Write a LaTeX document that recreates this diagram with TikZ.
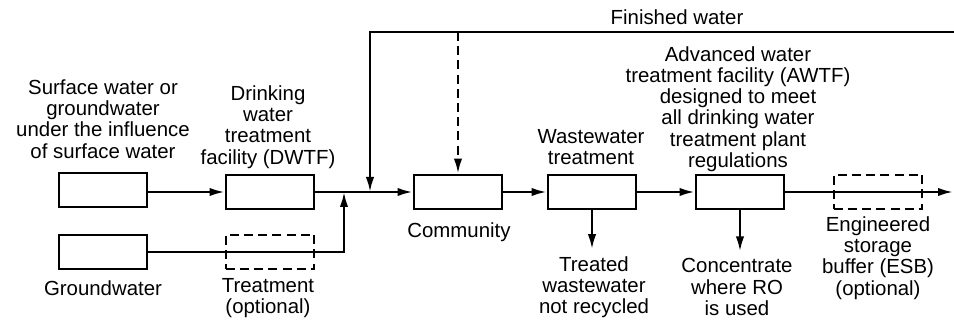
\documentclass[tikz,border=0pt]{standalone}
\usepackage{fontspec}
\setmainfont{Liberation Sans}
\usetikzlibrary{arrows.meta}
\begin{document}
\begin{tikzpicture}[x=0.5pt, y=-0.5pt, line width=1.15pt, >={Latex[length=7.5pt,width=4.2pt]},
		font=\fontsize{10.2pt}{10.6pt}\selectfont]
	\tikzset{unit/.style={draw, minimum width=44.3pt, minimum height=17.3pt, inner sep=0pt},
		optdash/.style={dash pattern=on 4.5pt off 2.6pt},
		optunit/.style={unit, optdash},
		txt/.style={align=center, inner sep=0pt}}
	\useasboundingbox (0,0) rectangle (954,320);
	% process boxes
	\node[unit] (surf) at (103,190) {};
	\node[unit] (gw) at (103,252) {};
	\node[unit] (dwtf) at (270,192) {};
	\node[optunit] (trt) at (270,252) {};
	\node[unit] (com) at (458,192) {};
	\node[unit] (wwt) at (592,192) {};
	\node[unit] (awtf) at (740,192) {};
	\node[optunit] (esb) at (878,192) {};
	% labels
	\node[txt] (surflbl) at (103,119) {Surface water or\\groundwater\\under the influence\\of surface water};
	\node[txt] (dwtflbl) at (268,127) {Drinking\\water\\treatment\\facility (DWTF)};
	\node[txt] (gwlbl) at (103,288) {Groundwater};
	\node[txt] (trtlbl) at (268,298) {Treatment\\(optional)};
	\node[txt] (finlbl) at (677,17) {Finished water};
	\node[txt] (comlbl) at (459,232) {Community};
	\node[txt] (wwtlbl) at (591,147) {Wastewater\\treatment};
	\node[txt] (twlbl) at (594,287) {Treated\\wastewater\\not recycled};
	\node[txt] (awtflbl) at (738,109) {Advanced water\\treatment facility (AWTF)\\designed to meet\\all drinking water\\treatment plant\\regulations};
	\node[txt] (conclbl) at (737,287) {Concentrate\\where RO\\is used};
	\node[txt] (esblbl) at (878,258) {Engineered\\storage\\buffer (ESB)\\(optional)};
	% junctions
	\coordinate (gwj) at (344,192);
	\coordinate (finj) at (370,192);
	\coordinate (fintop) at (370,32);
	\coordinate (finin) at (954,32);
	\coordinate (comtap) at (com.north |- fintop);
	\coordinate (out) at (953,192);
	% flows
	\draw[->] (surf.east |- dwtf) -- (dwtf);
	\draw[->] (dwtf) -- (com);
	\draw[->] (gw.east) -| (gwj);
	\draw[->] (finin) -- (fintop) -- (finj);
	\draw[->, optdash] (comtap) -- (com);
	\draw[->] (com) -- (wwt);
	\draw[->] (wwt) -- (awtf);
	\draw[->] (awtf) -- (out);
	\draw[->, shorten >=3pt] (wwt.south) -- (wwt.south |- twlbl.north);
	\draw[->, shorten >=3pt] (awtf.south) -- (awtf.south |- conclbl.north);
\end{tikzpicture}
\end{document}
